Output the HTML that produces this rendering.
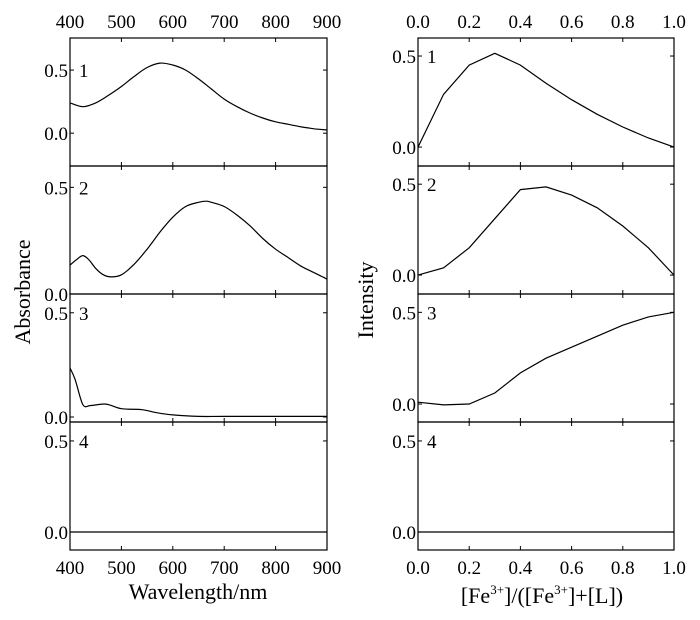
<!DOCTYPE html>
<html><head><meta charset="utf-8"><style>
html,body{margin:0;padding:0;background:#fff;}
svg{display:block;font-family:"Liberation Serif",serif;}
</style></head><body>
<svg id="chart" width="700" height="620" viewBox="0 0 700 620"></svg>
<script>
// Left column data (wavelength / nm vs absorbance)
const wl1 = [400,425,450,475,500,525,550,575,600,625,650,675,700,725,750,775,800,825,850,875,900];
const abs1 = [0.24,0.21,0.24,0.30,0.37,0.45,0.52,0.555,0.54,0.50,0.43,0.35,0.27,0.21,0.16,0.12,0.09,0.07,0.05,0.035,0.025];
const wl2 = [400,412,425,437,450,465,480,500,525,550,575,600,625,650,665,675,700,725,750,775,800,825,850,875,900];
const abs2 = [0.135,0.16,0.18,0.16,0.12,0.09,0.08,0.09,0.14,0.21,0.29,0.36,0.41,0.43,0.435,0.43,0.41,0.37,0.32,0.26,0.21,0.17,0.13,0.10,0.07];
const wl3 = [400,410,425,440,470,500,540,570,600,650,700,800,900];
const abs3 = [0.235,0.18,0.06,0.055,0.062,0.04,0.035,0.02,0.01,0.003,0.003,0.003,0.003];
const wl4 = [400,900];
const abs4 = [0,0];
// Right column data (mole fraction vs intensity)
const frac = [0,0.1,0.2,0.3,0.4,0.5,0.6,0.7,0.8,0.9,1.0];
const int1 = [0,0.29,0.45,0.515,0.45,0.35,0.26,0.18,0.11,0.05,0];
const int2 = [0,0.04,0.15,0.31,0.47,0.485,0.44,0.37,0.27,0.15,0];
const int3 = [0.01,-0.005,0,0.06,0.17,0.25,0.31,0.37,0.43,0.475,0.5];
const int4 = [0,0,0,0,0,0,0,0,0,0,0];
const wlTicks = [400,500,600,700,800,900];
const fracTicks = [0,0.2,0.4,0.6,0.8,1.0];
const fracTickLabels = ["0.0","0.2","0.4","0.6","0.8","1.0"];
const yTicks = [0,0.5];
const yTickLabels = ["0.0","0.5"];
const panelLabels = ["1","2","3","4"];

const svg = document.getElementById('chart');
const NS = 'http://www.w3.org/2000/svg';
function mk(tag, attrs, parent){const e=document.createElementNS(NS,tag);for(const k in attrs)e.setAttribute(k,attrs[k]);(parent||svg).appendChild(e);return e;}

const bounds=[38,166,294,422,550];
const leftPanels=[
 {xs:wl1,ys:abs1,ymin:-0.26,ymax:0.754},
 {xs:wl2,ys:abs2,ymin:0,ymax:0.6},
 {xs:wl3,ys:abs3,ymin:-0.024,ymax:0.59},
 {xs:wl4,ys:abs4,ymin:-0.099,ymax:0.604}];
const rightPanels=[
 {xs:frac,ys:int1,ymin:-0.104,ymax:0.599},
 {xs:frac,ys:int2,ymin:-0.104,ymax:0.6},
 {xs:frac,ys:int3,ymin:-0.098,ymax:0.6},
 {xs:frac,ys:int4,ymin:-0.099,ymax:0.604}];

function smoothPath(pts){
  let d='M'+pts[0][0].toFixed(1)+','+pts[0][1].toFixed(1);
  for(let i=0;i<pts.length-1;i++){
    const p0=pts[Math.max(0,i-1)],p1=pts[i],p2=pts[i+1],p3=pts[Math.min(pts.length-1,i+2)];
    const c1=[p1[0]+(p2[0]-p0[0])/6,p1[1]+(p2[1]-p0[1])/6];
    const c2=[p2[0]-(p3[0]-p1[0])/6,p2[1]-(p3[1]-p1[1])/6];
    d+=' C'+c1[0].toFixed(1)+','+c1[1].toFixed(1)+' '+c2[0].toFixed(1)+','+c2[1].toFixed(1)+' '+p2[0].toFixed(1)+','+p2[1].toFixed(1);
  }
  return d;
}

function drawColumn(col, x0, x1, dmin, dmax, panels, ticks, tickLabels, smooth){
  const sx=v=>x0+(v-dmin)/(dmax-dmin)*(x1-x0);
  panels.forEach((p,i)=>{
    const top=bounds[i], bot=bounds[i+1];
    const sy=v=>bot-(v-p.ymin)/(p.ymax-p.ymin)*(bot-top);
    const g=mk('g',{});
    
    
    const r=mk('rect',{x:x0,y:top,width:x1-x0,height:bot-top,fill:'none',stroke:'#000','stroke-width':1.2},g);
    
    
    ticks.forEach(t=>{
      const x=sx(t);
      mk('line',{x1:x,x2:x,y1:top,y2:top+4,stroke:'#000'},g);
      mk('line',{x1:x,x2:x,y1:bot,y2:bot-4,stroke:'#000'},g);
    });
    yTicks.forEach((t,k)=>{
      const y=sy(t);
      mk('line',{x1:x0,x2:x0+4,y1:y,y2:y,stroke:'#000'},g);
      mk('line',{x1:x1,x2:x1-4,y1:y,y2:y,stroke:'#000'},g);
      const tl=mk('text',{x:x0-2,y:y+7,'text-anchor':'end','font-size':19},g);
      tl.textContent=yTickLabels[k];
      
      
    });
    const lab=mk('text',{x:x0+9,y:sy(0.5)+7,'font-size':19},g);
    lab.textContent=panelLabels[i];
    
    
    const pts=p.xs.map((v,k)=>[sx(v),sy(p.ys[k])]);
    const d=smooth?smoothPath(pts):pts.map((q,k)=>(k?'L':'M')+q[0].toFixed(1)+','+q[1].toFixed(1)).join(' ');
    const path=mk('path',{d:d,fill:'none',stroke:'#000','stroke-width':1.2},g);
    
    
  });
  ticks.forEach((t,k)=>{
    const x=sx(t);
    const a=mk('text',{x:x,y:28,'text-anchor':'middle','font-size':19});
    a.textContent=tickLabels[k];
    
    
    const b=mk('text',{x:x,y:574,'text-anchor':'middle','font-size':19});
    b.textContent=tickLabels[k];
    
    
  });
}
drawColumn('left',70,327,400,900,leftPanels,wlTicks,wlTicks.map(String),true);
drawColumn('right',418,674,0,1,rightPanels,fracTicks,fracTickLabels,false);

const yl=mk('text',{x:0,y:0,'text-anchor':'middle','font-size':22,transform:'translate(30,292) rotate(-90)'});
yl.textContent='Absorbance';


const yr=mk('text',{x:0,y:0,'text-anchor':'middle','font-size':22,transform:'translate(373,300) rotate(-90)'});
yr.textContent='Intensity';


const xl=mk('text',{x:198,y:599,'text-anchor':'middle','font-size':22});
xl.textContent='Wavelength/nm';


const xr=mk('text',{x:542,y:603,'text-anchor':'middle','font-size':22});
xr.innerHTML='[Fe<tspan dy="-9" font-size="13">3+</tspan><tspan dy="9">]/([Fe</tspan><tspan dy="-9" font-size="13">3+</tspan><tspan dy="9">]+[L])</tspan>';


</script>
</body></html>
